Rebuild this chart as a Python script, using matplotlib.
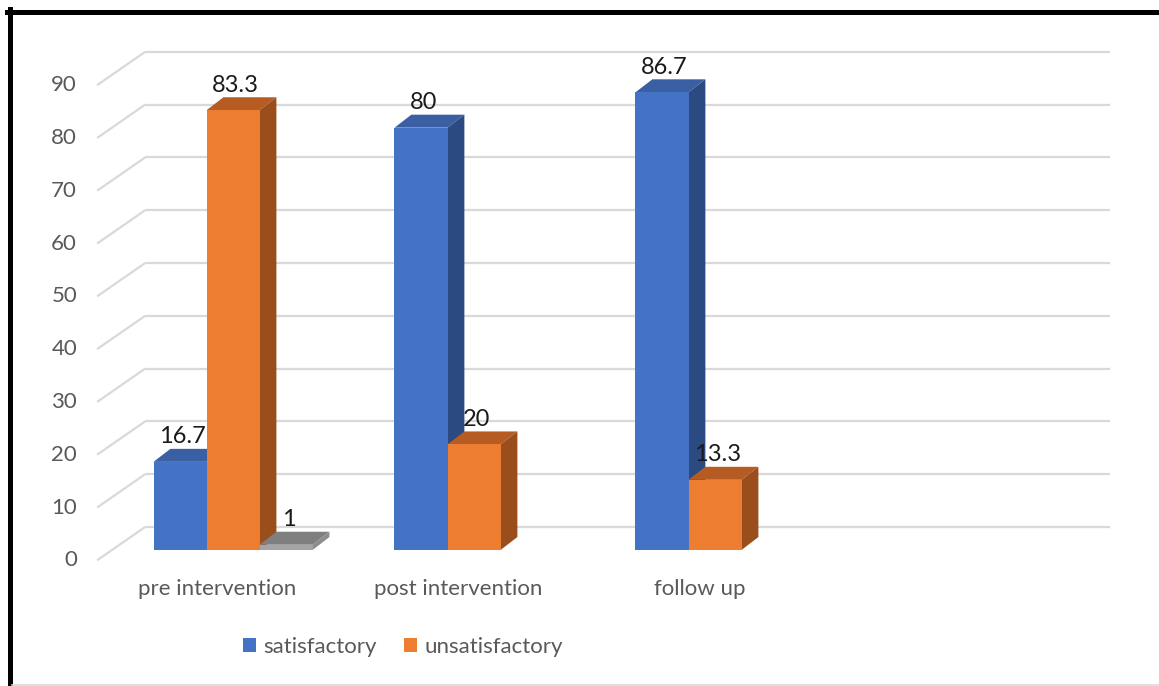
import matplotlib.pyplot as plt
from matplotlib.patches import Polygon
from matplotlib.lines import Line2D

# data
categories = ['pre intervention', 'post intervention', 'follow up']
satisfactory = [16.7, 80, 86.7]
unsatisfactory = [83.3, 20, 13.3]
third = [1, None, None]          # stray third series, only in the first group
yticks = list(range(0, 100, 10))

plt.rcParams['font.family'] = ['Lato', 'DejaVu Sans']

fig = plt.figure(figsize=(11.59, 6.86), dpi=100)
ax = fig.add_axes([60 / 1159, 86 / 686, 1070 / 1159, 570 / 686])
ax.set_xlim(-0.718, 3.722)
ax.set_ylim(-9.47, 98.5)
ax.axis('off')

# fake 3d geometry (in data units)
bar_w = 0.22
bar_dx, bar_dy = 0.07, 2.46       # depth of each column
front_dy = -1.95                  # floor front edge
wall_dx, wall_dy = 0.199, 6.3     # back wall shift
x_front = -0.564
x_end = 3.639

grid_col = '#d9d9d9'
for t in yticks:
    ax.plot([x_front, x_front + wall_dx], [t + front_dy, t + front_dy + wall_dy],
            color=grid_col, lw=1.6, zorder=1, solid_capstyle='butt')
    ax.plot([x_front + wall_dx, x_end], [t + front_dy + wall_dy] * 2,
            color=grid_col, lw=1.6, zorder=1, solid_capstyle='butt')
    ax.text(-0.647, t + front_dy, str(t), ha='right', va='center',
            fontsize=16, color='#595959')

series = [
    ('satisfactory', satisfactory, '#4472c4', '#3a5fa3', '#2c4a82'),
    ('unsatisfactory', unsatisfactory, '#ed7d31', '#b65b22', '#9a4e1c'),
    (None, third, '#a5a5a5', '#7f7f7f', '#8c8c8c'),
]
offsets = [-bar_w, 0, bar_w]

handles = []
for k, (name, vals, front, top, side) in enumerate(series):
    xs = [i + offsets[k] for i, v in enumerate(vals) if v is not None]
    hs = [v for v in vals if v is not None]
    bars = ax.bar(xs, hs, width=bar_w, color=front, zorder=3 + 2 * k, label=name)
    if name:
        handles.append(bars)
    for x, v in zip(xs, hs):
        x0, x1 = x - bar_w / 2, x + bar_w / 2
        ax.add_patch(Polygon([(x0, v), (x0 + bar_dx, v + bar_dy), (x1 + bar_dx, v + bar_dy), (x1, v)],
                             closed=True, facecolor=top, edgecolor='none', zorder=2 + 2 * k))
        ax.add_patch(Polygon([(x1, 0), (x1, v), (x1 + bar_dx, v + bar_dy), (x1 + bar_dx, bar_dy)],
                             closed=True, facecolor=side, edgecolor='none', zorder=2 + 2 * k))
        lab = f'{v:g}'
        ax.text(x + 0.01, v + bar_dy + 2.3, lab, ha='center', va='center',
                fontsize=17, color='#1a1a1a', zorder=20)

for i, c in enumerate(categories):
    ax.text(i - 0.065, -7.39, c, ha='center', va='center', fontsize=16, color='#595959')

fig.legend(handles=handles, labels=['satisfactory', 'unsatisfactory'],
           loc='center', bbox_to_anchor=(403 / 1159, 1 - 647 / 686), ncol=2,
           frameon=False, fontsize=16, labelcolor='#595959',
           handlelength=0.6, handleheight=0.6, handletextpad=0.35, columnspacing=1.2)

# frame around the picture
fig.add_artist(Line2D([9.5 / 1159, 9.5 / 1159], [1 - 9 / 686, 1 - 684 / 686],
                      color='black', lw=3.6, transform=fig.transFigure))
fig.add_artist(Line2D([7 / 1159, 1], [1 - 11.5 / 686, 1 - 11.5 / 686],
                      color='black', lw=3.6, transform=fig.transFigure))
fig.add_artist(Line2D([12 / 1159, 1], [1 - 685 / 686, 1 - 685 / 686],
                      color='#d9d9d9', lw=1.2, transform=fig.transFigure))

fig.savefig('out.png', dpi=100)
